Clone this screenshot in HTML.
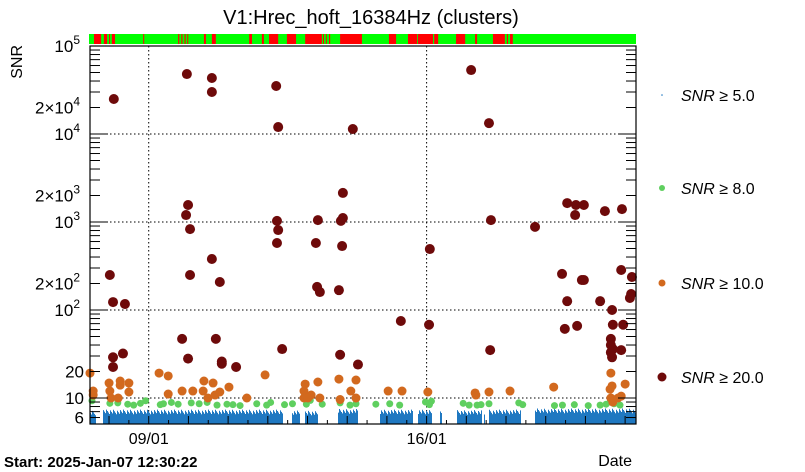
<!DOCTYPE html>
<html><head><meta charset="utf-8"><style>
body{margin:0;background:#fff;}
svg{display:block;font-family:"Liberation Sans",sans-serif;}
</style></head><body>
<svg id="chart" width="805" height="472" viewBox="0 0 805 472">
<rect width="805" height="472" fill="#fff"/>
<text x="371" y="24" text-anchor="middle" font-size="20">V1:Hrec_hoft_16384Hz (clusters)</text>
<text transform="translate(22,45) rotate(-90)" text-anchor="end" font-size="16">SNR</text>
<text x="4" y="467" font-size="15" font-weight="bold">Start: 2025-Jan-07 12:30:22</text>
<text x="632" y="466" text-anchor="end" font-size="16">Date</text>
<g id="status"></g>
<g id="grid"></g>
<g id="blue"></g>
<g id="pts"></g>
<g id="axes"></g>
<g id="legend"></g>
</svg>
<script>
// ---- data ----
const redDays=[0.60,0.50,0.58,0.88,0.58,0.83,0.58,2.44,3.07,3.07,4.69,4.74,6.62,2.47,2.42,2.52,2.52,3.27,3.07,4.71,4.74,4.71,5.74,5.69,6.37,6.32,6.35,6.37,2.32,2.47,3.17,3.32,3.32,3.68,4.84,5.72,5.79,6.27,6.30,6.75,7.83,8.56,8.54,9.60,10.05,10.10,10.08,11.21,12.02,12.24,12.22,12.44,12.97,13.40,11.89,12.39,12.44,12.02,12.27,11.96,13.15,13.17,12.85,13.12,13.12,13.12,13.15,13.17,13.38,13.65,13.43,13.38,13.63,13.60];
const redSNR=[25000,250,123,117,29,32,22.5,48000,43300,30000,35100,12000,11400,1560,1200,830,250,208,380,1030,810,577,1050,577,1110,1030,533,2140,47,28,47,26,24.5,22.5,36,183,160,168,31,24,75,493,68,53300,13300,1050,35,880,1640,1560,1200,1560,1330,1400,257,219,219,126,66,61,100,68,126,47,40,33,29,36,285,237,68,35,152,137];
const orDays=[0.0,0.08,0.08,0.48,0.50,0.76,0.76,0.98,0.98,0.53,0.71,1.74,1.97,1.97,2.32,2.87,2.85,2.59,3.10,3.15,3.27,2.97,3.50,3.95,4.41,5.42,5.39,5.39,5.57,5.74,5.49,5.79,6.27,6.70,6.57,6.30,6.70,7.51,7.86,8.51,9.70,9.72,10.05,10.58,11.68,13.10,13.12,13.17,13.38,13.30,13.48,13.12,13.15];
const orSNR=[19.2,12.0,10.8,14.8,12.0,15.6,14.0,14.8,11.7,10.0,10.0,19.2,17.8,11.1,12.0,15.6,12.0,12.0,14.8,10.8,11.7,10.0,13.3,10.0,18.3,14.4,12.0,10.0,10.8,15.2,10.0,10.0,16.4,16.0,12.0,9.6,10.0,12.0,12.0,11.7,11.4,10.8,11.7,12.0,13.3,12.6,10.0,9.0,10.5,10.0,14.4,19.2,13.7];
const grDays=[0.05,0.50,0.70,0.95,1.10,1.27,1.40,1.77,1.85,2.05,2.22,2.55,2.75,2.95,3.20,3.45,3.60,3.78,4.20,4.45,4.55,4.90,5.10,5.45,5.55,5.85,6.30,6.55,6.70,7.20,7.55,7.80,8.45,8.55,8.60,9.40,9.55,9.75,9.85,10.05,10.80,10.90,11.70,11.90,12.20,12.55,12.85,13.00,13.10,13.20,13.35];
const grSNR=[9.3,8.7,8.8,8.5,8.3,8.7,9.3,8.4,8.6,8.9,8.5,8.8,8.6,8.9,8.3,8.5,8.4,8.2,8.6,8.3,8.9,8.4,8.6,8.5,9.4,8.5,8.8,8.3,8.6,8.5,8.6,8.3,9.0,8.4,9.2,8.7,8.3,8.3,8.4,8.6,8.8,8.4,8.2,8.3,8.4,8.2,8.3,8.5,9.0,8.6,8.3];
const blueStart=[0.0,0.33,5.09,5.42,6.25,7.30,8.26,8.82,9.24,9.93,10.05,11.21];
const blueEnd=[0.15,4.86,5.29,5.74,6.75,8.14,8.61,8.86,9.87,9.96,10.86,13.75];
const blueTop=[7.0,7.2,7.0,7.0,7.3,7.2,7.2,7.0,7.1,7.0,7.2,7.4];
const flagStart=[0.10,0.35,0.48,0.55,1.34,2.22,2.30,2.38,2.45,2.87,3.07,4.01,4.33,4.51,4.96,5.42,5.87,5.94,6.02,6.30,7.53,8.01,8.26,8.67,9.22,9.70,10.15,10.50,10.58];
const flagEnd=[0.28,0.43,0.50,0.63,1.36,2.25,2.33,2.41,2.47,2.92,3.17,4.08,4.38,4.74,5.19,5.84,5.89,5.96,6.05,6.85,7.71,8.24,8.64,8.77,9.45,9.75,10.45,10.53,10.65];
const dayTicks=[1.479,8.479];
const dayLabels=["09/01","16/01"];
// ---- scales ----
const X0=90,X1=636,Y0=46,Y1=424,PPD=39.7;
const xs=d=>X0+d*PPD;
const ys=s=>398-88*(Math.log10(s)-1);
const NS="http://www.w3.org/2000/svg";
function mk(tag,attrs,parent){const e=document.createElementNS(NS,tag);for(const k in attrs)e.setAttribute(k,attrs[k]);parent.appendChild(e);return e;}
const G=id=>document.getElementById(id);
// status bar
const st=G('status');
let sb=mk('rect',{x:X0-1,y:34,width:X1-X0+1,height:10,fill:'#00ff00'},st);


flagStart.forEach((s,i)=>{const r=mk('rect',{x:xs(s),y:34,width:Math.max(1,xs(flagEnd[i])-xs(s)),height:10,fill:'#ff0000'},st);

});
// grid
const gr=G('grid');
[10,100,1000,10000].forEach(v=>{const l=mk('line',{x1:X0,x2:X1,y1:ys(v),y2:ys(v),stroke:'#000','stroke-dasharray':'1.5,2.5'},gr);

});
dayTicks.forEach(d=>{const l=mk('line',{x1:xs(d),x2:xs(d),y1:Y0,y2:Y1,stroke:'#000','stroke-dasharray':'1.5,2.5'},gr);

});
// blue noise
const bl=G('blue');
let path='';
blueStart.forEach((s,i)=>{for(let x=Math.round(xs(s));x<Math.round(xs(blueEnd[i]));x++){const h=((x*73+i*31)%17)/17;const top=ys(blueTop[i])+h*5-1;path+=`M${x} ${Y1}V${top.toFixed(1)}h1V${Y1}z`;}});
const bp=mk('path',{d:path,fill:'#1f78c1'},bl);


// points
const pg=G('pts');
function pts(days,snr,col,r,name){days.forEach((d,i)=>{const c=mk('circle',{cx:xs(d),cy:ys(snr[i]),r:r,fill:col},pg);

});}
pts(grDays,grSNR,'#5fcf5f',3.5,'point-snr8');
pts(orDays,orSNR,'#d2691e',4.5,'point-snr10');
pts(redDays,redSNR,'#6e0a0a',5,'point-snr20');
// axes
const ax=G('axes');
mk('rect',{x:X0,y:Y0,width:X1-X0,height:Y1-Y0,fill:'none',stroke:'#000','stroke-width':1.2},ax);
for(let e=0;e<5;e++){for(let m=1;m<10;m++){const v=m*Math.pow(10,e);if(v<5.07||v>100000)continue;const y=ys(v);const L=m===1?18:10;
mk('line',{x1:X0,x2:X0+L,y1:y,y2:y,stroke:'#000'},ax);mk('line',{x1:X1,x2:X1-L,y1:y,y2:y,stroke:'#000'},ax);}}
for(let d=0;d<=13.75;d+=0.5){const x=xs(d+0.479);if(x>X1)break;const L=(Math.abs((d+0.479)%1-0.479)<0.01)?8:4;mk('line',{x1:x,x2:x,y1:Y1,y2:Y1-L,stroke:'#000'},ax);}
const yl=[[6,'6'],[10,'10'],[20,'20'],[200,'2×10','2'],[100,'10','2'],[2000,'2×10','3'],[1000,'10','3'],[20000,'2×10','4'],[10000,'10','4'],[100000,'10','5']];
yl.forEach(a=>{const t=mk('text',{x:a[2]?80:84,y:ys(a[0])+6,'text-anchor':'end','font-size':17},ax);t.textContent=a[1];


if(a[2]){const s=mk('tspan',{dy:-8,'font-size':12},t);s.textContent=a[2];}});
dayLabels.forEach((lab,i)=>{const t=mk('text',{x:xs(dayTicks[i]),y:444,'text-anchor':'middle','font-size':16},ax);t.textContent=lab;

});
// legend
const lg=G('legend');
const leg=[[95,'#1f78c1',0.8,'5.0'],[188,'#5fcf5f',3,'8.0'],[283,'#d2691e',3.5,'10.0'],[377,'#6e0a0a',4.5,'20.0']];
leg.forEach(l=>{const g=mk('g',{},lg);


mk('circle',{cx:662,cy:l[0],r:l[2],fill:l[1]},g);
const t=mk('text',{x:681,y:l[0]+6,'font-size':16},g);
const a=mk('tspan',{'font-style':'italic'},t);a.textContent='SNR';
const b=mk('tspan',{},t);b.textContent=' ≥ '+l[3];});
</script>
</body></html>
